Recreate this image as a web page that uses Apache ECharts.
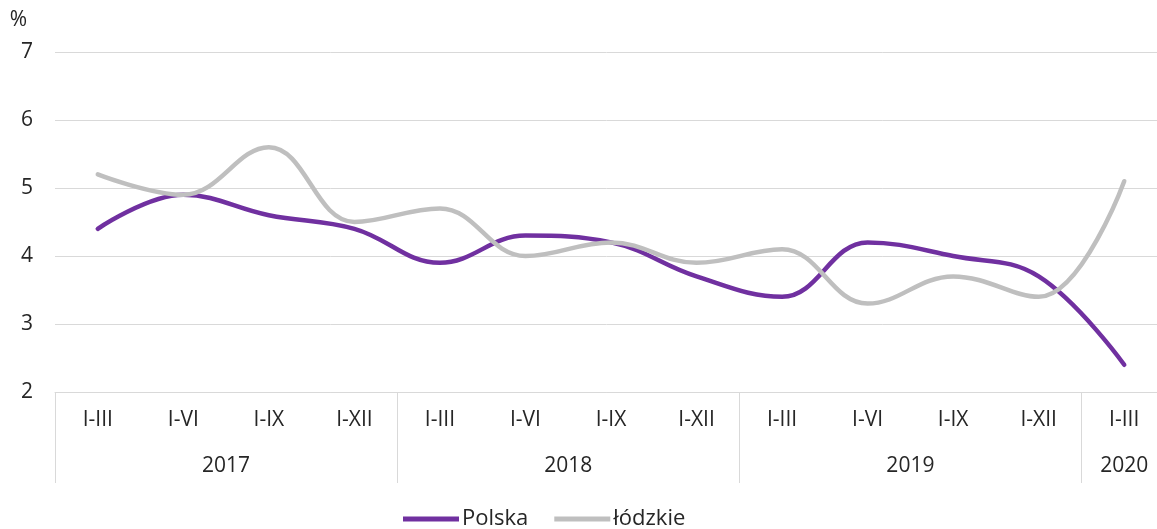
<!DOCTYPE html>
<html>
<head>
<meta charset="utf-8">
<script src="https://cdn.jsdelivr.net/npm/echarts@6/dist/echarts.min.js"></script>
<style>html,body{margin:0;padding:0;background:#fff}#c{width:1157px;height:529px}</style>
</head>
<body>
<div id="c"></div>
<script>
var quarters = ['I-III','I-VI','I-IX','I-XII','I-III','I-VI','I-IX','I-XII','I-III','I-VI','I-IX','I-XII','I-III'];
var years = ['2017','2018','2019','2020'];
var yearSpans = [4, 4, 4, 1];
var polska = [4.4, 4.9, 4.6, 4.4, 3.9, 4.3, 4.2, 3.7, 3.4, 4.2, 4.0, 3.7, 2.4];
var lodzkie = [5.2, 4.9, 5.6, 4.5, 4.7, 4.0, 4.2, 3.9, 4.1, 3.3, 3.7, 3.4, 5.1];
var yTicks = [2, 3, 4, 5, 6, 7];

var bounds = [0], centers = [], acc = 0;
yearSpans.forEach(function (s) { centers.push(acc + s / 2); acc += s; bounds.push(acc); });

var FONT = 'Open Sans';
var TXT = '#262626';
var chart = echarts.init(document.getElementById('c'));
chart.setOption({
  animation: false,
  grid: { left: 55, width: 1112, top: 52, bottom: 137, containLabel: false, outerBoundsMode: 'none' },
  legend: {
    left: 398, top: 503, padding: 5,
    icon: 'rect', itemWidth: 56, itemHeight: 5, itemGap: 26,
    textStyle: { fontFamily: FONT, fontSize: 22, color: TXT, padding: [0, 0, 0, -2] },
    data: ['Polska', 'łódzkie']
  },
  xAxis: [{
    type: 'category',
    data: quarters,
    boundaryGap: true,
    axisLine: { lineStyle: { color: '#d9d9d9', width: 1 } },
    axisTick: { show: false },
    axisLabel: { interval: 0, margin: 18, fontFamily: FONT, fontSize: 21, color: TXT }
  }, {
    type: 'value',
    min: 0, max: quarters.length,
    position: 'bottom',
    axisLine: { show: false },
    splitLine: { show: false },
    axisTick: { show: true, length: 91, customValues: bounds, lineStyle: { color: '#d9d9d9', width: 1 } },
    axisLabel: {
      customValues: centers, margin: 64, fontFamily: FONT, fontSize: 21, color: TXT,
      formatter: function (v) { var i = centers.indexOf(v); return i >= 0 ? years[i] : ''; }
    }
  }],
  yAxis: {
    type: 'value',
    min: yTicks[0], max: yTicks[yTicks.length - 1], interval: 1,
    name: '%',
    nameLocation: 'end',
    nameGap: 21,
    nameTextStyle: { fontFamily: FONT, fontSize: 21, color: TXT, align: 'right', padding: [0, 28, 0, 0] },
    axisLine: { show: false },
    axisTick: { show: false },
    axisLabel: { margin: 22, fontFamily: FONT, fontSize: 21, color: TXT },
    splitLine: { lineStyle: { color: '#d9d9d9', width: 1 } }
  },
  series: [{
    name: 'Polska', type: 'line', data: polska, smooth: 0.4,
    symbol: 'none', lineStyle: { color: '#7030a0', width: 4.5, cap: 'round' }, itemStyle: { color: '#7030a0' }
  }, {
    name: 'łódzkie', type: 'line', data: lodzkie, smooth: 0.4,
    symbol: 'none', lineStyle: { color: '#bfbfbf', width: 4.5, cap: 'round' }, itemStyle: { color: '#bfbfbf' }
  }]
});
</script>
</body>
</html>
